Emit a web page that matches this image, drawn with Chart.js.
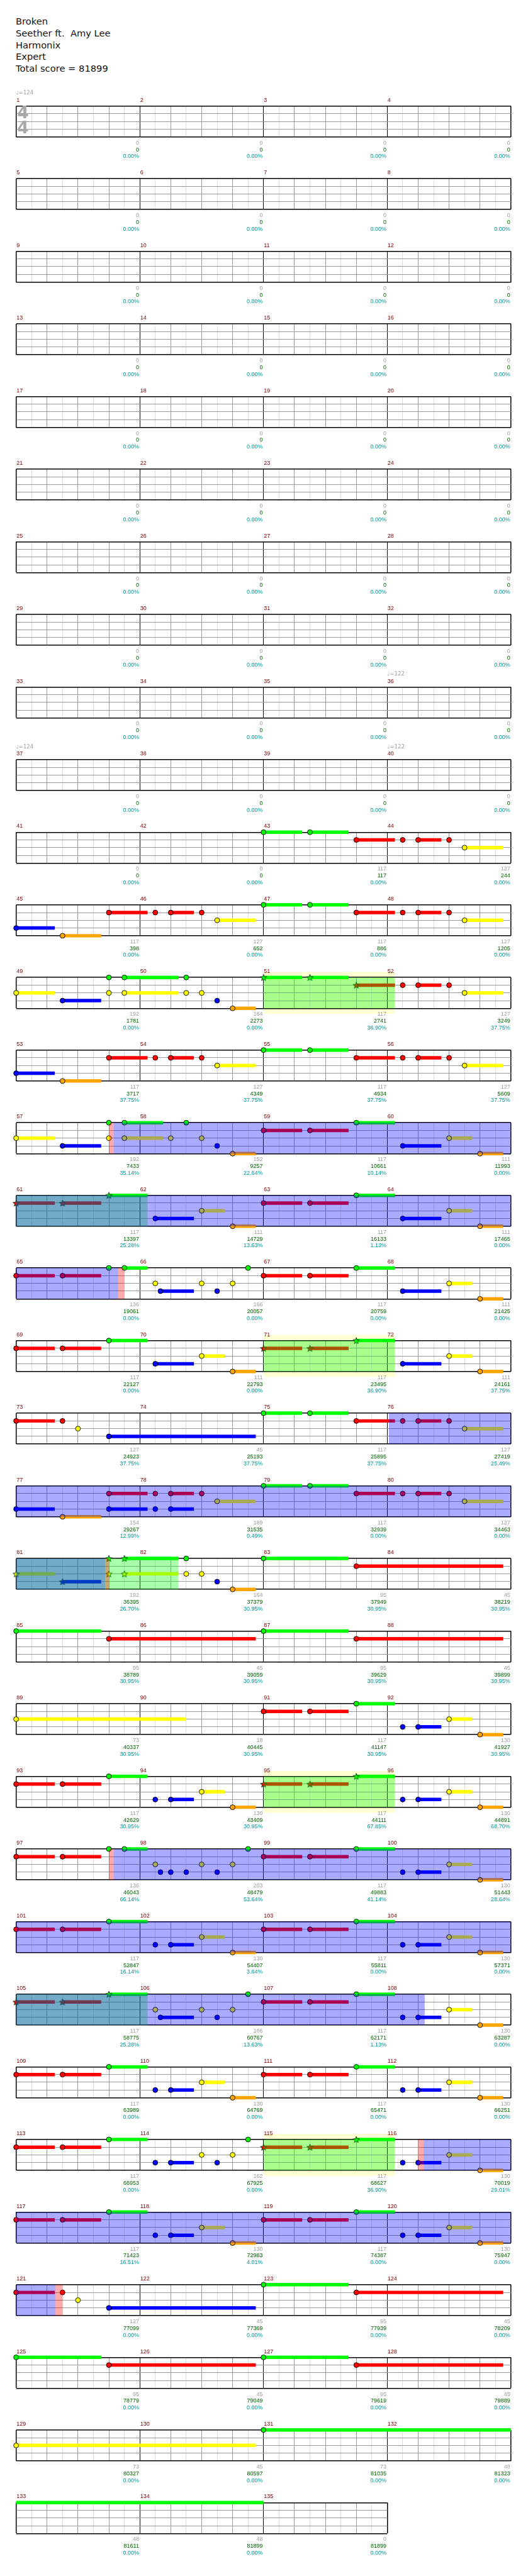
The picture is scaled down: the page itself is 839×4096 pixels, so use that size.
<!DOCTYPE html>
<html>
<head>
<meta charset="utf-8">
<script src="https://cdn.jsdelivr.net/npm/chart.js@4.4.1/dist/chart.umd.min.js"></script>
<style>
  body { margin: 0; background: #fff; width: 839px; height: 4096px; position: relative; overflow: hidden; }
  #title { position: absolute; left: 25px; top: 25px; font: 14.7px "DejaVu Sans", sans-serif; line-height: 18.8px; white-space: pre; color: #111; }
  canvas { position: absolute; left: 0; }
</style>
</head>
<body>
<div id="title"></div>
<script>
const S = 0.819;

// song header
const songInfo = ["Broken", "Seether ft.  Amy Lee", "Harmonix", "Expert"];
const totalScore = 81899;

// tempo changes: [measure, bpm]
const tempoMarks = [[1, 124], [36, 122], [37, 124], [40, 122]];

// per measure (1..135): base score, running score, percentage
const baseScores = [
  0, 0, 0, 0,  0, 0, 0, 0,  0, 0, 0, 0,  0, 0, 0, 0,  0, 0, 0, 0,
  0, 0, 0, 0,  0, 0, 0, 0,  0, 0, 0, 0,  0, 0, 0, 0,  0, 0, 0, 0,
  0, 0, 117, 127,  117, 127, 117, 127,  192, 164, 117, 127,  117, 127, 117, 127,
  192, 152, 117, 111,  117, 111, 117, 111,  136, 166, 117, 111,  117, 111, 117, 111,
  127, 45, 117, 127,  154, 189, 117, 127,  192, 164, 95, 45,  95, 45, 95, 45,
  73, 18, 117, 130,  117, 130, 117, 130,  136, 203, 117, 130,  117, 130, 117, 130,
  117, 166, 117, 130,  117, 130, 117, 130,  117, 162, 117, 130,  117, 130, 117, 130,
  127, 45, 95, 45,  95, 45, 95, 45,  73, 45, 73, 48,  48, 48, 0
];
const runningScores = [
  0, 0, 0, 0,  0, 0, 0, 0,  0, 0, 0, 0,  0, 0, 0, 0,  0, 0, 0, 0,
  0, 0, 0, 0,  0, 0, 0, 0,  0, 0, 0, 0,  0, 0, 0, 0,  0, 0, 0, 0,
  0, 0, 117, 244,  398, 652, 886, 1205,  1781, 2273, 2741, 3249,  3717, 4349, 4934, 5609,
  7433, 9257, 10661, 11993,  13397, 14729, 16133, 17465,  19061, 20057, 20759, 21425,  22127, 22793, 23495, 24161,
  24923, 25193, 25895, 27419,  29267, 31535, 32939, 34463,  36395, 37379, 37949, 38219,  38789, 39059, 39629, 39899,
  40337, 40445, 41147, 41927,  42629, 43409, 44111, 44891,  46043, 48479, 49883, 51443,  52847, 54407, 55811, 57371,
  58775, 60767, 62171, 63287,  63989, 64769, 65471, 66251,  66953, 67925, 68627, 70019,  71423, 72983, 74387, 75947,
  77099, 77369, 77939, 78209,  78779, 79049, 79619, 79889,  80327, 80597, 81035, 81323,  81611, 81899, 81899
];
const percents = [
  0, 0, 0, 0,  0, 0, 0, 0,  0, 0, 0, 0,  0, 0, 0, 0,  0, 0, 0, 0,
  0, 0, 0, 0,  0, 0, 0, 0,  0, 0, 0, 0,  0, 0, 0, 0,  0, 0, 0, 0,
  0, 0, 0, 0,  0, 0, 0, 0,  0, 0, 36.90, 37.75,  37.75, 37.75, 37.75, 37.75,
  35.14, 22.64, 10.14, 0,  25.28, 13.63, 1.13, 0,  0, 0, 0, 0,  0, 0, 36.90, 37.75,
  37.75, 37.75, 37.75, 25.49,  12.99, 0.49, 0, 0,  26.70, 30.95, 30.95, 30.95,  30.95, 30.95, 30.95, 30.95,
  30.95, 30.95, 30.95, 30.95,  30.95, 30.95, 67.85, 68.70,  66.14, 53.64, 41.14, 28.64,  16.14, 3.64, 0, 0,
  25.28, 13.63, 1.13, 0,  0, 0, 0, 0,  0, 0, 36.90, 29.01,  16.51, 4.01, 0, 0,
  0, 0, 0, 0,  0, 0, 0, 0,  0, 0, 0, 0,  0, 0, 0
];

// notes: [measure, sixteenth in measure, lane (0 green .. 4 orange), sustain in sixteenths]
const notes = [
  [43,0,0,5],[43,6,0,5],[43,12,1,5], [44,2,1,0],[44,4,1,3],[44,8,1,0],[44,10,2,5],
  [45,0,3,5],[45,6,4,5],[45,12,1,5], [46,2,1,0],[46,4,1,3],[46,8,1,0],[46,10,2,5],
  [47,0,0,5],[47,6,0,5],[47,12,1,5], [48,2,1,0],[48,4,1,3],[48,8,1,0],[48,10,2,5],
  [49,0,2,5],[49,6,3,5],[49,12,0,0],[49,12,2,0],[49,14,0,7],[49,14,2,7],
  [50,6,0,0],[50,6,2,0],[50,8,2,0],[50,10,3,0],[50,12,4,3],
  [51,0,0,5],[51,6,0,5],[51,12,1,5], [52,2,1,0],[52,4,1,3],[52,8,1,0],[52,10,2,5],
  [53,0,3,5],[53,6,4,5],[53,12,1,5], [54,2,1,0],[54,4,1,3],[54,8,1,0],[54,10,2,5],
  [55,0,0,5],[55,6,0,5],[55,12,1,5], [56,2,1,0],[56,4,1,3],[56,8,1,0],[56,10,2,5],
  [57,0,2,5],[57,6,3,5],[57,12,0,0],[57,12,2,0],[57,14,0,5],[57,14,2,5],
  [58,4,2,0],[58,6,0,0],[58,8,2,0],[58,10,3,0],[58,12,4,3],
  [59,0,1,5],[59,6,1,5],[59,12,0,5], [60,2,3,5],[60,8,2,3],[60,12,4,3],
  [61,0,1,5],[61,6,1,5],[61,12,0,5], [62,2,3,5],[62,8,2,3],[62,12,4,3],
  [63,0,1,5],[63,6,1,5],[63,12,0,5], [64,2,3,5],[64,8,2,3],[64,12,4,3],
  [65,0,1,5],[65,6,1,5],[65,12,0,0],[65,14,0,3],
  [66,2,2,0],[66,2.67,3,4.33],[66,8,2,0],[66,10,3,0],[66,12,2,0],[66,14,0,0],
  [67,0,1,5],[67,6,1,5],[67,12,0,5], [68,2,3,5],[68,8,2,3],[68,12,4,3],
  [69,0,1,5],[69,6,1,5],[69,12,0,5], [70,2,3,5],[70,8,2,3],[70,12,4,3],
  [71,0,1,5],[71,6,1,5],[71,12,0,5], [72,2,3,5],[72,8,2,3],[72,12,4,3],
  [73,0,1,5],[73,6,1,0],[73,8,2,0],[73,12,3,19],
  [75,0,0,5],[75,6,0,5],[75,12,1,5], [76,2,1,0],[76,4,1,3],[76,8,1,0],[76,10,2,5],
  [77,0,3,5],[77,6,4,5],[77,12,1,5],[77,12,3,5],
  [78,2,1,0],[78,2,3,0],[78,4,1,3],[78,4,3,3],[78,8,1,0],[78,10,2,5],
  [79,0,0,5],[79,6,0,5],[79,12,1,5], [80,2,1,0],[80,4,1,3],[80,8,1,0],[80,10,2,5],
  [81,0,2,5],[81,6,3,5],[81,12,0,0],[81,12,2,0],[81,14,0,7],[81,14,2,7],
  [82,6,0,0],[82,6,2,0],[82,8,2,0],[82,10,3,0],[82,12,4,3],
  [83,0,0,11],[83,12,1,19],
  [85,0,0,11],[85,12,1,19],
  [87,0,0,11],[87,12,1,19],
  [89,0,2,22],
  [91,0,1,5],[91,6,1,5],[91,12,0,5], [92,2,3,0],[92,4,3,3],[92,8,2,3],[92,12,4,3],
  [93,0,1,5],[93,6,1,5],[93,12,0,5], [94,2,3,0],[94,4,3,3],[94,8,2,3],[94,12,4,3],
  [95,0,1,5],[95,6,1,5],[95,12,0,5], [96,2,3,0],[96,4,3,3],[96,8,2,3],[96,12,4,3],
  [97,0,1,5],[97,6,1,5],[97,12,0,0],[97,14,0,3],
  [98,2,2,0],[98,2.67,3,0],[98,4,3,0],[98,6,3,0],[98,8,2,0],[98,10,3,0],[98,12,2,0],[98,14,0,0],
  [99,0,1,5],[99,6,1,5],[99,12,0,5], [100,2,3,0],[100,4,3,3],[100,8,2,3],[100,12,4,3],
  [101,0,1,5],[101,6,1,5],[101,12,0,5], [102,2,3,0],[102,4,3,3],[102,8,2,3],[102,12,4,3],
  [103,0,1,5],[103,6,1,5],[103,12,0,5], [104,2,3,0],[104,4,3,3],[104,8,2,3],[104,12,4,3],
  [105,0,1,5],[105,6,1,5],[105,12,0,5],
  [106,2,2,0],[106,2.67,3,4.33],[106,8,2,0],[106,10,3,0],[106,12,2,0],[106,14,0,0],
  [107,0,1,5],[107,6,1,5],[107,12,0,5], [108,2,3,0],[108,4,3,3],[108,8,2,3],[108,12,4,3],
  [109,0,1,5],[109,6,1,5],[109,12,0,5], [110,2,3,0],[110,4,3,3],[110,8,2,3],[110,12,4,3],
  [111,0,1,5],[111,6,1,5],[111,12,0,5], [112,2,3,0],[112,4,3,3],[112,8,2,3],[112,12,4,3],
  [113,0,1,5],[113,6,1,5],[113,12,0,5],
  [114,2,3,0],[114,4,3,3],[114,8,2,0],[114,10,3,0],[114,12,2,0],[114,14,0,0],
  [115,0,1,5],[115,6,1,5],[115,12,0,5], [116,2,3,0],[116,4,3,3],[116,8,2,3],[116,12,4,3],
  [117,0,1,5],[117,6,1,5],[117,12,0,5], [118,2,3,0],[118,4,3,3],[118,8,2,3],[118,12,4,3],
  [119,0,1,5],[119,6,1,5],[119,12,0,5], [120,2,3,0],[120,4,3,3],[120,8,2,3],[120,12,4,3],
  [121,0,1,5],[121,6,1,0],[121,8,2,0],[121,12,3,19],
  [123,0,0,11],[123,12,1,19],
  [125,0,0,11],[125,12,1,19],
  [127,0,0,11],[127,12,1,19],
  [129,0,2,31],
  [131,0,0,64]
];

// star power phrases and activations, in sixteenths from the song start
const phrases = [[800, 817, true], [960, 977, false], [1120, 1137, true], [1280, 1301, false],
                 [1504, 1521, true], [1664, 1681, false], [1824, 1841, true]];
const activations = [[908.6, 1037.2], [1200.2, 1291.5], [1548.6, 1716.85], [1844.7, 1925.1]];
const hitMarks = [[908, 908.6], [1037.2, 1038], [1291.5, 1292], [1548, 1548.6], [1844, 1844.7], [1925.1, 1926]];

const laneColors = ['#00ff00', '#ff0000', '#ffff00', '#0000ff', '#ffa500'];
const measureCount = baseScores.length;

document.getElementById('title').textContent = songInfo.join('\n') + '\nTotal score = ' + totalScore;

function inPhrase(t) {
  return phrases.some(p => t >= p[0] && t < p[1]);
}

function starImage(color) {
  const c = document.createElement('canvas');
  const R = 6.6 * S, r = 2.7 * S, size = Math.ceil(2 * R + 3);
  c.width = c.height = size;
  const g = c.getContext('2d');
  g.translate(size / 2, size / 2 + 0.6);
  g.beginPath();
  for (let i = 0; i < 10; i++) {
    const rad = i % 2 ? r : R, ang = -Math.PI / 2 + i * Math.PI / 5;
    g.lineTo(rad * Math.cos(ang), rad * Math.sin(ang));
  }
  g.closePath();
  g.fillStyle = color;
  g.fill();
  g.strokeStyle = '#123312';
  g.lineWidth = 1;
  g.stroke();
  return c;
}
const stars = laneColors.map(starImage);

const smallFont = (11 * S).toFixed(2) + 'px "Liberation Sans", Arial, sans-serif';

const rowDeco = {
  id: 'rowDeco',
  beforeDraw(chart) {
    const {ctx, chartArea: a, scales: {x}} = chart;
    ctx.save();
    ctx.fillStyle = '#ffffd2';
    phrases.forEach(p => {
      if (!p[2]) return;
      const x0 = x.getPixelForValue(Math.max(p[0], x.min));
      const x1 = x.getPixelForValue(Math.min(p[1], x.max));
      if (x1 > x0) ctx.fillRect(x0, a.top - 10.5 * S, x1 - x0, a.bottom - a.top + 21 * S);
    });
    ctx.restore();
  },
  beforeDatasetsDraw(chart, args, o) {
    if (o.row !== 0) return;
    const {ctx, chartArea: a} = chart;
    ctx.save();
    ctx.fillStyle = '#a8a8a8';
    ctx.font = 'bold ' + (32 * S).toFixed(1) + 'px "DejaVu Sans", sans-serif';
    ctx.textAlign = 'center';
    ctx.textBaseline = 'middle';
    ctx.fillText('4', a.left + 13.4 * S, a.top + 15 * S);
    ctx.fillText('4', a.left + 13.4 * S, a.top + 45 * S);
    ctx.restore();
  },
  afterDatasetsDraw(chart) {
    const {ctx, chartArea: a, scales: {x}} = chart;
    const band = (list, color) => {
      ctx.fillStyle = color;
      list.forEach(p => {
        const x0 = x.getPixelForValue(Math.max(p[0], x.min));
        const x1 = x.getPixelForValue(Math.min(p[1], x.max));
        if (x1 > x0) ctx.fillRect(x0, a.top, x1 - x0, a.bottom - a.top);
      });
    };
    ctx.save();
    band(phrases, 'rgba(0,255,0,0.333)');
    band(activations, 'rgba(0,0,255,0.333)');
    band(hitMarks, 'rgba(255,0,0,0.333)');
    ctx.restore();
  },
  afterDraw(chart, args, o) {
    const {ctx, chartArea: a, scales: {x}} = chart;
    ctx.save();
    ctx.font = smallFont;
    ctx.textBaseline = 'middle';
    for (let k = 0; k < o.n; k++) {
      const m = o.first + k;
      const x0 = x.getPixelForValue((m - 1) * 16);
      const x1 = x.getPixelForValue(m * 16);
      ctx.textAlign = 'left';
      ctx.fillStyle = '#800000';
      ctx.fillText(String(m), x0 + 0.5, a.top - 11.3 * S);
      const tempo = tempoMarks.find(t => t[0] === m);
      if (tempo) {
        ctx.fillStyle = '#a0a0a0';
        ctx.font = (10.5 * S).toFixed(2) + 'px "DejaVu Sans", sans-serif';
        ctx.fillText('\u2669=' + tempo[1], x0, a.top - 24.7 * S);
        ctx.font = smallFont;
      }
      ctx.textAlign = 'right';
      const xr = x1 - 1.5 * S;
      ctx.fillStyle = '#a0a0a0';
      ctx.fillText(String(baseScores[m - 1]), xr, a.bottom + 11.7 * S);
      ctx.fillStyle = '#006400';
      ctx.fillText(String(runningScores[m - 1]), xr, a.bottom + 25 * S);
      ctx.fillStyle = '#009898';
      ctx.fillText(percents[m - 1].toFixed(2) + '%', xr, a.bottom + 38 * S);
    }
    ctx.restore();
  }
};

const rowCount = Math.ceil(measureCount / 4);
for (let r = 0; r < rowCount; r++) {
  const first = r * 4 + 1;
  const n = Math.min(4, measureCount - r * 4);
  const tMin = r * 64, tMax = tMin + n * 16;

  const staffTop = (205.7 + 141 * r) * S;
  const top = Math.floor(staffTop - 36 * S);
  const height = 117;
  const padTop = staffTop - top;
  const padLeft = 31.3 * S;
  const staffW = n * 240 * S;
  const width = Math.ceil(padLeft + staffW + 30 * S);

  const cv = document.createElement('canvas');
  cv.width = width;
  cv.height = height;
  cv.style.top = top + 'px';
  document.body.appendChild(cv);

  const heads = [];
  notes.forEach(([m, s, lane]) => {
    const t = (m - 1) * 16 + s;
    if (t >= tMin && t < tMax) heads.push({x: t, y: lane, lane: lane, star: inPhrase(t)});
  });

  const tails = laneColors.map((col, lane) => {
    const d = [];
    notes.forEach(([m, s, l, len]) => {
      if (l !== lane || !len) return;
      const t0 = (m - 1) * 16 + s;
      const a0 = Math.max(t0, tMin), b0 = Math.min(t0 + len, tMax);
      if (b0 > a0) d.push({x: a0, y: lane}, {x: b0, y: lane}, {x: b0, y: null});
    });
    return {type: 'line', data: d, borderColor: col, borderWidth: 6.7 * S, borderCapStyle: 'butt',
            pointRadius: 0, spanGaps: false, tension: 0, clip: false, order: 2};
  });

  new Chart(cv, {
    type: 'scatter',
    data: {
      datasets: [{
        data: heads,
        order: 1,
        clip: false,
        pointRadius: 4.8 * S,
        pointBorderWidth: 0.9,
        pointBorderColor: '#000',
        pointBackgroundColor: heads.map(h => laneColors[h.lane]),
        pointStyle: heads.map(h => h.star ? stars[h.lane] : 'circle')
      }].concat(tails)
    },
    options: {
      responsive: false,
      animation: false,
      devicePixelRatio: 1,
      events: [],
      layout: {padding: {left: padLeft, right: width - padLeft - staffW, top: padTop, bottom: height - padTop - 60 * S}},
      plugins: {legend: {display: false}, tooltip: {enabled: false}, rowDeco: {row: r, first: first, n: n}},
      scales: {
        x: {
          type: 'linear', min: tMin, max: tMax,
          afterBuildTicks: sc => { const t = []; for (let v = tMin; v <= tMax; v += 2) t.push({value: v}); sc.ticks = t; },
          afterFit: sc => { sc.height = 0; },
          ticks: {display: false},
          border: {display: false},
          grid: {
            drawTicks: false,
            color: c => c.tick.value % 16 === 0 ? '#000' : (c.tick.value % 4 === 0 ? '#9a9a9a' : '#dedede'),
            lineWidth: c => (c.tick.value === tMin || c.tick.value === tMax) ? 1.5 : 1
          }
        },
        y: {
          type: 'linear', min: 0, max: 4, reverse: true,
          afterBuildTicks: sc => { sc.ticks = [0, 1, 2, 3, 4].map(v => ({value: v})); },
          afterFit: sc => { sc.width = 0; },
          ticks: {display: false},
          border: {display: false},
          grid: {
            drawTicks: false,
            color: c => c.tick.value % 4 === 0 ? '#000' : '#9a9a9a',
            lineWidth: c => c.tick.value % 4 === 0 ? 1.5 : 1
          }
        }
      }
    },
    plugins: [rowDeco]
  });
}
</script>
</body>
</html>
